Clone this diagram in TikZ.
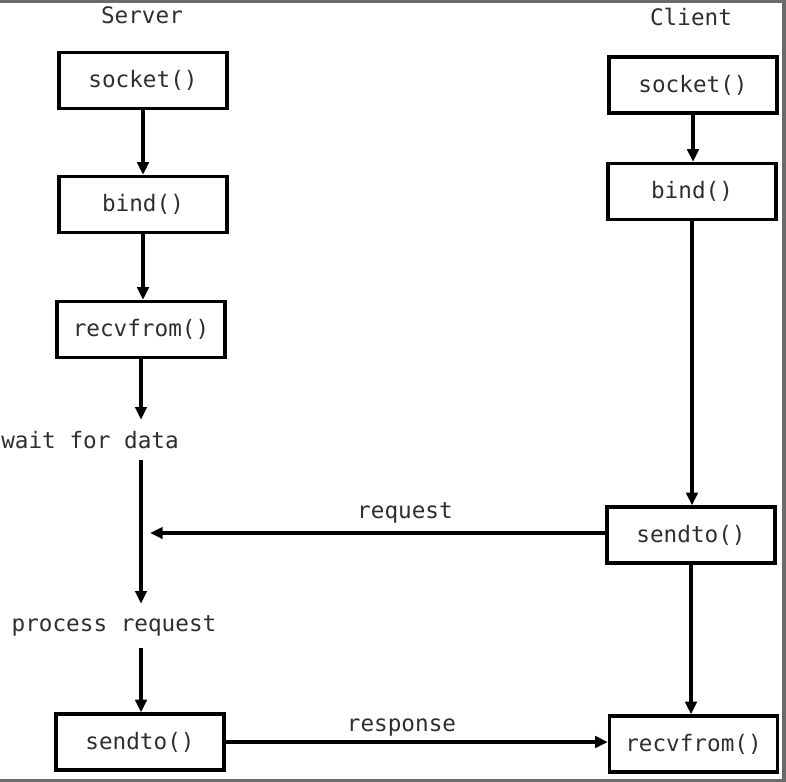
\documentclass[tikz,border=0pt]{standalone}
\usepackage{fontspec}
\setmonofont{DejaVu Sans Mono}
\usetikzlibrary{arrows.meta}
\begin{document}
\begin{tikzpicture}[x=0.75pt,y=-0.75pt,
  every node/.style={font=\ttfamily\fontsize{17}{20}\selectfont, text=black!82},
  fbox/.style={draw=black, line width=2.5pt, minimum width=126pt, minimum height=42pt, inner sep=0pt},
  lbl/.style={inner sep=0pt},
  arr/.style={line width=2.5pt, -{Triangle[length=9.5pt,width=8.5pt]}},
  frame/.style={fill=black!58, draw=none}]
\useasboundingbox (0,0) rectangle (786,782);
\fill[frame] (0,0) rectangle (786,2.5);
\fill[frame] (782,0) rectangle (786,782);
\fill[frame] (0,779) rectangle (786,782);
% titles
\node[lbl] (srv) at (142,15) {Server};
\node[lbl] (cli) at (691,17) {Client};
% server column
\node[fbox] (ssock) at (143,80.5) {socket()};
\node[fbox] (sbind) at (143,204.5) {bind()};
\node[fbox] (srecv) at (141,329.5) {recvfrom()};
\node[lbl, minimum height=30pt] (wait) at (90,440) {wait for data};
\node[lbl, minimum height=33pt] (proc) at (114,626) {process request};
\node[fbox] (ssend) at (140,742) {sendto()};
% client column
\node[fbox] (csock) at (693,85) {socket()};
\node[fbox] (cbind) at (692,191.5) {bind()};
\node[fbox] (csend) at (691,535) {sendto()};
\node[fbox] (crecv) at (693.5,744) {recvfrom()};
\coordinate (reqend) at (150,533);
% server arrows
\draw[arr] (ssock.south) -- (ssock.south |- sbind.north);
\draw[arr] (sbind.south) -- (sbind.south |- srecv.north);
\draw[arr] (srecv.south) -- (srecv.south |- wait.north);
\draw[arr] (srecv.south |- wait.south) -- (srecv.south |- proc.north);
\draw[arr] (srecv.south |- proc.south) -- (srecv.south |- ssend.north);
% client arrows
\draw[arr] (csock.south) -- (csock.south |- cbind.north);
\draw[arr] (cbind.south) -- (cbind.south |- csend.north);
\draw[arr] (csend.south) -- (csend.south |- crecv.north);
% messages
\draw[arr] (csend.west |- reqend) -- (reqend) node[lbl, pos=0.44, anchor=base, yshift=11.25pt] (req) {request};
\draw[arr] (ssend.east) -- (ssend.east -| crecv.west) node[lbl, pos=0.46, anchor=base, yshift=8.25pt] (resp) {response};
\end{tikzpicture}
\end{document}
